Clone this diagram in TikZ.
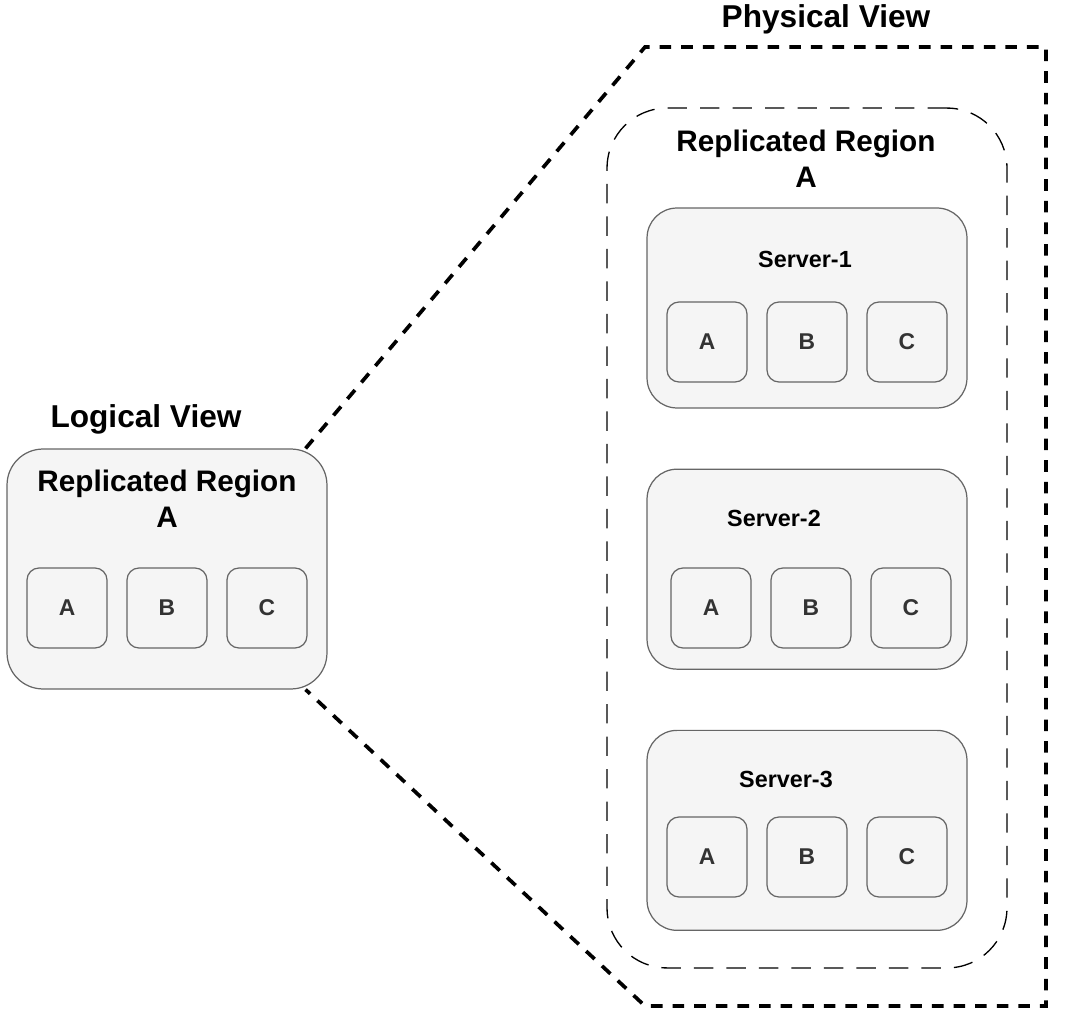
\documentclass[tikz,border=0pt]{standalone}
\usepackage{fontspec}
\setmainfont{Liberation Sans}
\usepackage{tikz}
\usetikzlibrary{positioning}
\definecolor{boxfill}{HTML}{F5F5F5}
\definecolor{boxline}{HTML}{666666}
\definecolor{boxtext}{HTML}{333333}

\begin{document}
\begin{tikzpicture}[x=0.02cm,y=-0.02cm,node distance=2cm,
                    line join=miter]
  \tikzstyle{shard}=[draw=boxline,fill=boxfill,line width=0.7pt,rounded corners=0.24cm,
                     minimum size=1.6cm,text=boxtext,font=\fontsize{13}{15}\selectfont\bfseries]
  \tikzstyle{server}=[draw=boxline,fill=boxfill,line width=0.7pt,rounded corners=0.6cm,
                      minimum width=6.4cm,minimum height=4cm]
  \tikzstyle{region}=[draw=boxline,fill=boxfill,line width=0.7pt,rounded corners=0.72cm,
                      minimum width=6.4cm,minimum height=4.8cm]
  \tikzstyle{replica}=[draw=black,line width=0.75pt,dash pattern=on 11pt off 7.5pt,
                       rounded corners=1.2cm,minimum width=8cm,minimum height=17.2cm]
  \tikzstyle{frame}=[draw=black,line width=2.1pt,dash pattern=on 6.6pt off 5.7pt]
  \tikzstyle{heading}=[font=\fontsize{18}{21}\selectfont\bfseries]
  \tikzstyle{title}=[align=center,font=\fontsize{16.9}{20.4}\selectfont\bfseries]
  \tikzstyle{label}=[font=\fontsize{13.3}{16}\selectfont\bfseries]

  \useasboundingbox (0,0) rectangle (1068,1026);

  % logical view
  \node[heading] (logicalhead) at (146,419) {Logical View};
  \node[region] (logical) at (167,569) {};
  \node[title] (logicaltitle) at (167,499) {Replicated Region\\A};
  \node[shard] (la) at (67,608) {A};
  \node[shard] (lb) [right of=la] {B};
  \node[shard] (lc) [right of=lb] {C};

  % physical view
  \node[heading] (physicalhead) at (826,19) {Physical View};
  \node[replica] (physical) at (807,538) {};
  \node[title] (physicaltitle) at (806,159) {Replicated Region\\A};

  \node[server] (server1) at (807,308) {};
  \node[server] (server2) [below=1.2cm of server1] {};
  \node[server] (server3) [below=1.2cm of server2] {};

  \node[label] (label1) at (805,259) {Server-1};
  \node[label] (label2) at (774,518) {Server-2};
  \node[label] (label3) at (786,779) {Server-3};

  \node[shard] (s1a) at (707,342) {A};
  \node[shard] (s1b) [right of=s1a] {B};
  \node[shard] (s1c) [right of=s1b] {C};

  \node[shard] (s2a) at (711,608) {A};
  \node[shard] (s2b) [right of=s2a] {B};
  \node[shard] (s2c) [right of=s2b] {C};

  \node[shard] (s3a) at (707,857) {A};
  \node[shard] (s3b) [right of=s3a] {B};
  \node[shard] (s3c) [right of=s3b] {C};

  \coordinate (frame nw) at (645,47);
  \coordinate (frame ne) at (1046,47);
  \coordinate (frame se) at (1046,1006);
  \coordinate (frame sw) at (645,1006);

  \draw[frame] ([xshift=-0.44cm]logical.north east) -- (frame nw) -- (frame ne)
               -- (frame se) -- (frame sw) -- ([xshift=-0.44cm]logical.south east);
\end{tikzpicture}
\end{document}
